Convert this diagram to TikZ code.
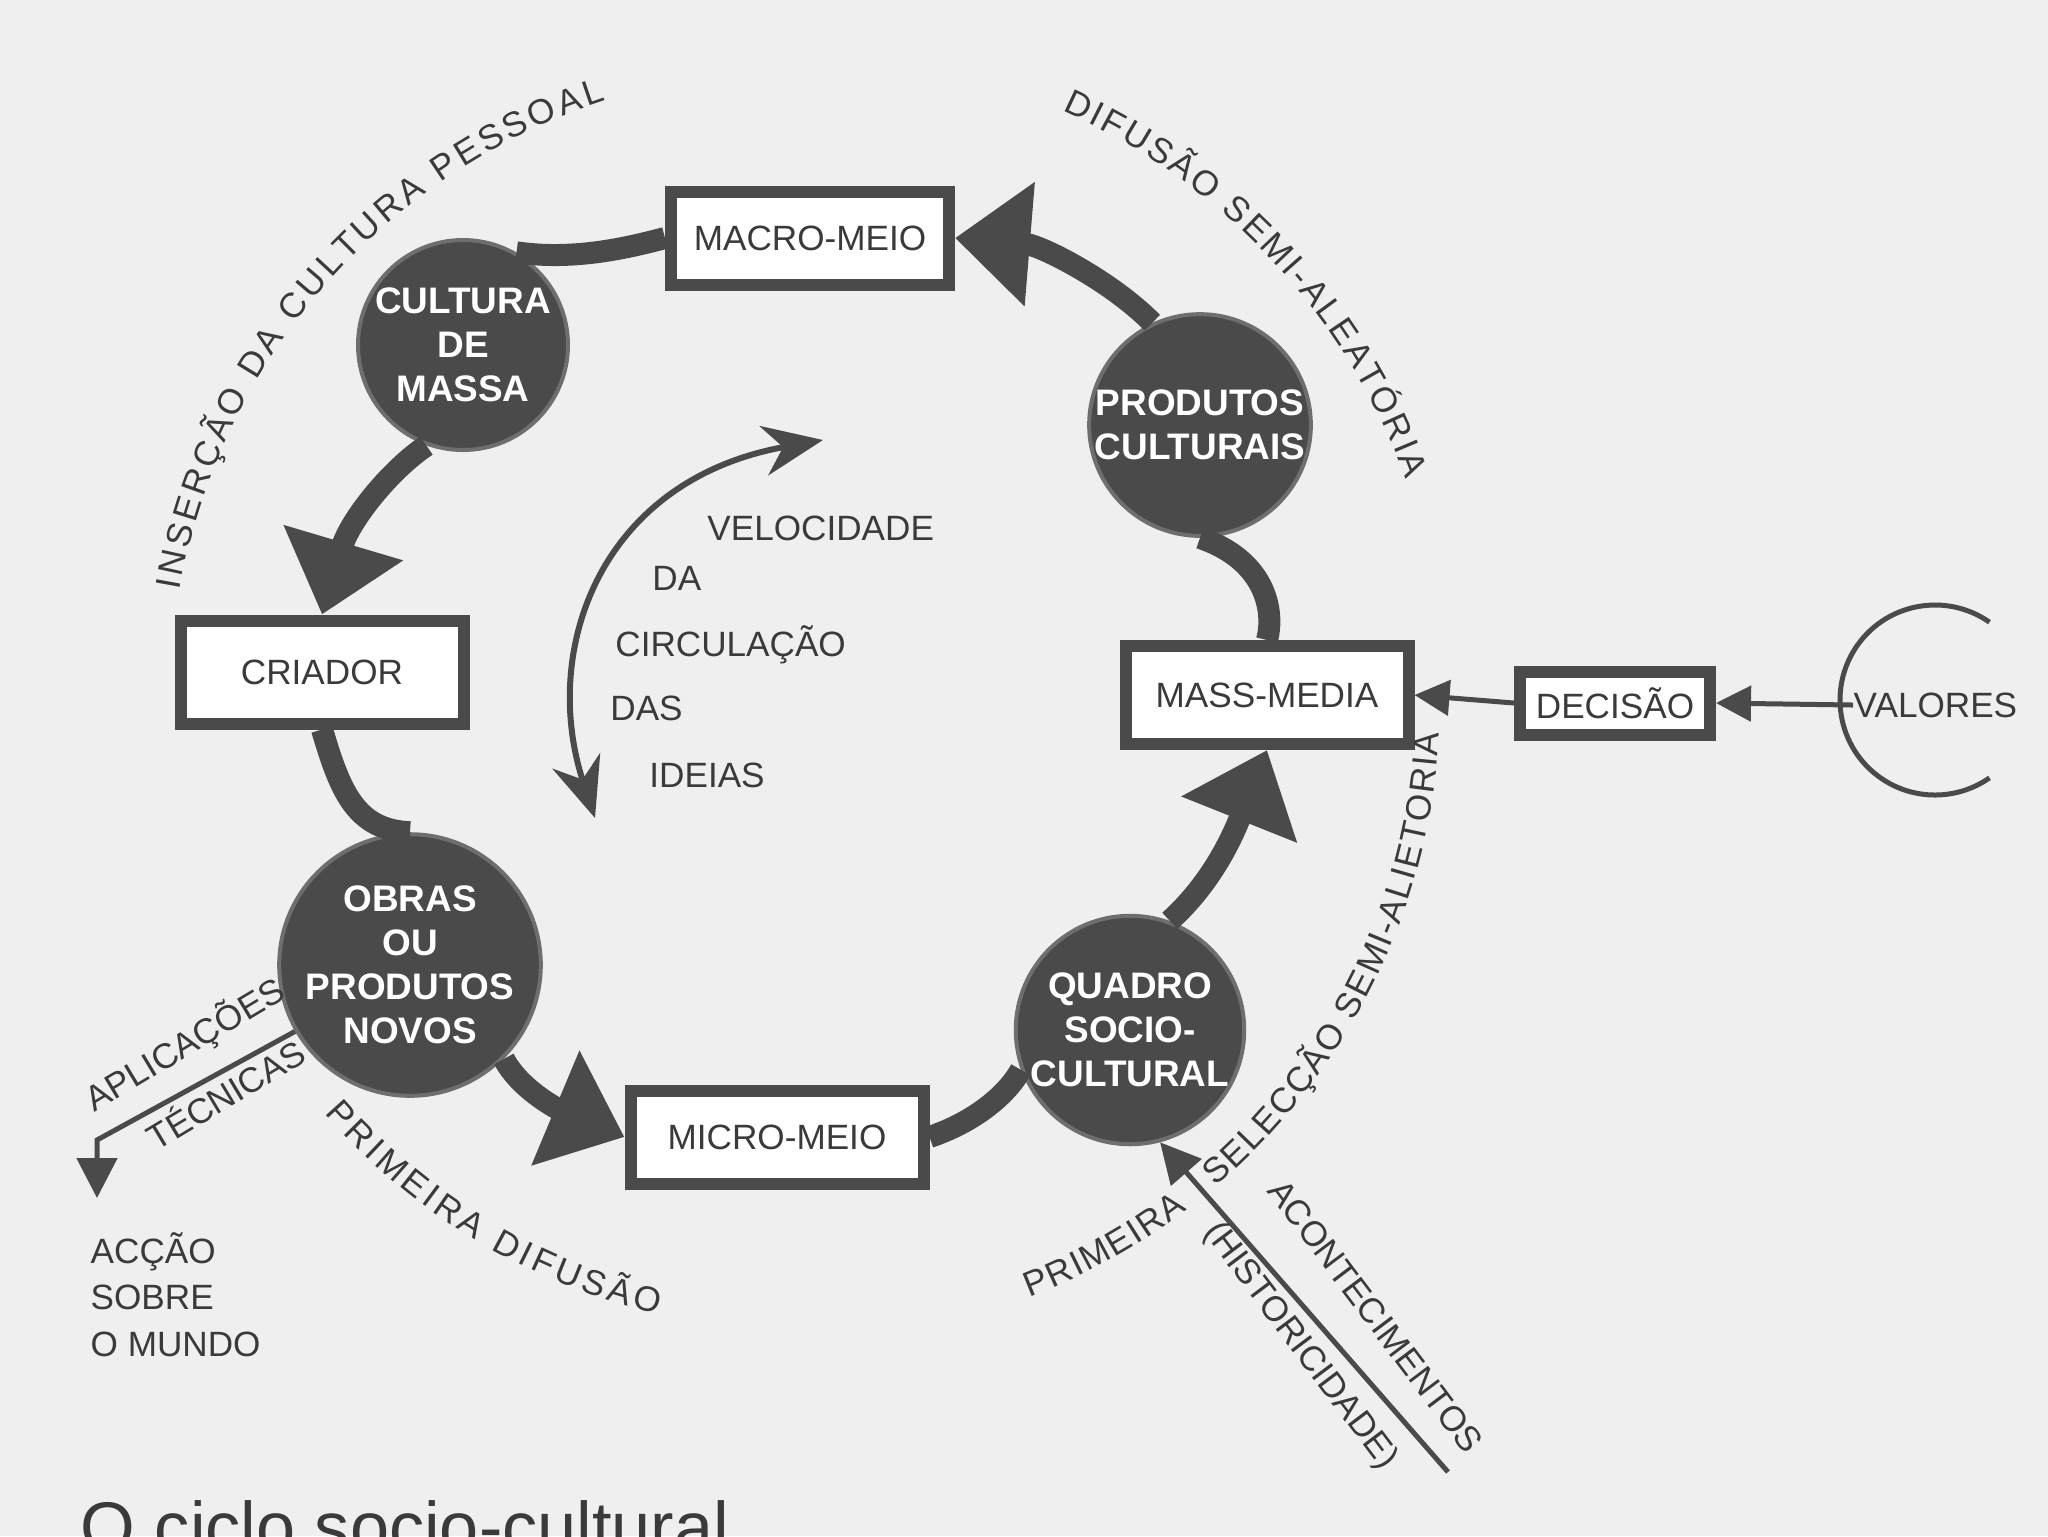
\documentclass[tikz,border=0pt]{standalone}
\usepackage{fontspec}
\setsansfont{Liberation Sans}
\usetikzlibrary{arrows.meta,decorations.text}
\definecolor{bg}{HTML}{EFEFEF}
\definecolor{ink}{HTML}{4A4A4A}
\definecolor{txt}{HTML}{3A3A3A}
\tikzset{
  boxn/.style={draw=ink,line width=1.2mm,fill=white,font=\sffamily\fontsize{10}{12}\selectfont,text=txt,inner sep=0pt},
  circn/.style={circle,fill=ink,draw=ink!80,line width=0.4mm,minimum size=21mm,inner sep=0pt,align=center,text=white,font=\sffamily\bfseries\fontsize{10.5}{12.5}\selectfont},
  thk/.style={draw=ink,line width=2.2mm},
  thkh/.style={thk,-{Triangle[length=7.5mm,width=12mm]}},
  thin/.style={draw=ink,line width=0.5mm},
  lab/.style={font=\sffamily\fontsize{10}{12}\selectfont,text=txt},
  arctext/.style={decorate,decoration={text along path,text align={fit to path},text color=txt}}
}
\begin{document}
\begin{tikzpicture}[x=0.1mm,y=-0.1mm]
\useasboundingbox[fill=bg] (0,0) rectangle (2048,1536);
% boxes
\node[boxn,minimum width=27.8mm,minimum height=9.3mm] (macro) at (810,238) {MACRO-MEIO};
\node[boxn,minimum width=28.3mm,minimum height=10.3mm] (criador) at (322,672) {CRIADOR};
\node[boxn,minimum width=28.3mm,minimum height=9.8mm] (mass) at (1267,695) {MASS-MEDIA};
\node[boxn,minimum width=29.3mm,minimum height=9.3mm] (micro) at (777,1137) {MICRO-MEIO};
\node[boxn,minimum width=19mm,minimum height=6.3mm] (decisao) at (1615,703) {DECISÃO};
% circles
\node[circn] (cm) at (463,345) {CULTURA\\DE\\MASSA};
\node[circn] (pc) at (1200,425) {PRODUTOS\\CULTURAIS};
\node[circn] (ob) at (410,965) {OBRAS\\OU\\PRODUTOS\\NOVOS};
\node[circn] (qs) at (1130,1030) {QUADRO\\SOCIO-\\CULTURAL};
% thick cycle arrows
\draw[thkh] (cm.250) .. controls (390,470) and (350,520) .. (criador.north);
\draw[thk] (criador.south) .. controls (340,790) and (355,830) .. (ob.north);
\draw[thkh] (ob.-45) .. controls (520,1090) and (560,1110) .. (micro.west);
\draw[thk] (micro.east) .. controls (980,1120) and (1010,1090) .. (qs.200);
\draw[thkh] (qs.70) .. controls (1215,880) and (1235,830) .. (mass.south);
\draw[thk] (mass.north) .. controls (1275,610) and (1265,560) .. (pc.south);
\draw[thkh] (pc.115) .. controls (1110,280) and (1040,245) .. (macro.east);
\draw[thk] (macro.west) .. controls (620,250) and (570,260) .. (cm.60);
% velocity arrow
\coordinate (v1) at (823,440);
\coordinate (v2) at (595,818);
\draw[draw=ink,line width=0.6mm,{Stealth[length=6mm,width=5mm]}-{Stealth[length=6mm,width=5mm]}] (v1) .. controls (600,480) and (540,650) .. (v2);
\node[lab,anchor=west] (vel) at (695,528) {VELOCIDADE};
\node[lab,anchor=west] (da) at (640,578) {DA};
\node[lab,anchor=west] (circ) at (603,645) {CIRCULAÇÃO};
\node[lab,anchor=west] (das) at (598,708) {DAS};
\node[lab,anchor=west] (ide) at (637,775) {IDEIAS};
% valores
\draw[draw=ink,line width=0.5mm] (1935,700) ++(55:9.5mm) arc[start angle=55,end angle=305,radius=9.5mm];
\node[lab,anchor=west,inner sep=0pt] (valores) at (1853,705) {VALORES};
\draw[thin,-{Triangle[length=3.5mm,width=3.5mm]}] (valores.west) -- (decisao.east);
\draw[thin,-{Triangle[length=3.5mm,width=3.5mm]}] (decisao.west) -- (mass.east);
% aplicacoes
\coordinate (ap1) at (97,1140);
\coordinate (ap2) at (97,1198);
\draw[thin,-{Triangle[length=4mm,width=4mm]}] (ob.210) -- (ap1) -- (ap2);
\node[lab,rotate=31] (apl) at (185,1045) {APLICAÇÕES};
\node[lab,rotate=31] (tec) at (225,1093) {TÉCNICAS};
\node[lab,anchor=north west,align=left,inner sep=0pt,font=\sffamily\fontsize{10}{13.2}\selectfont] (acc) at (90,1232) {ACÇÃO\\SOBRE\\O MUNDO};
% acontecimentos
\coordinate (ac0) at (1448,1472);
\draw[thin,-{Triangle[length=4mm,width=4mm]}] (ac0) -- (qs.-75);
\node[lab,rotate=-53] (acont) at (1376,1316) {ACONTECIMENTOS};
\node[lab,rotate=-53] (hist) at (1300,1346) {(HISTORICIDADE)};
% arc texts
\path[arctext,decoration={text={|\sffamily\fontsize{10}{12}\selectfont|INSERÇÃO DA CULTURA PESSOAL}}]
  (800,700) ++(170:63mm) arc[start angle=170,end angle=108,radius=63mm];
\path[arctext,decoration={text={|\sffamily\fontsize{10}{12}\selectfont|DIFUSÃO SEMI-ALEATÓRIA}}]
  (800,700) ++(66:64.5mm) arc[start angle=66,end angle=20,radius=64.5mm];
\path[arctext,decoration={text={|\sffamily\fontsize{10}{12}\selectfont|PRIMEIRA DIFUSÃO}}]
  (800,700) ++(221:63mm) arc[start angle=221,end angle=257,radius=63mm];
\path[arctext,decoration={text={|\sffamily\fontsize{10}{12}\selectfont|PRIMEIRA \ \ SELECÇÃO SEMI-ALIETORIA}}]
  (800,700) ++(-69:64mm) arc[start angle=-69,end angle=-3,radius=64mm];
% caption (cut off)
\node[anchor=north west,inner sep=0pt,font=\sffamily\fontsize{20}{24}\selectfont,text=txt] (cap) at (80,1500) {O ciclo socio-cultural};
\end{tikzpicture}
\end{document}
